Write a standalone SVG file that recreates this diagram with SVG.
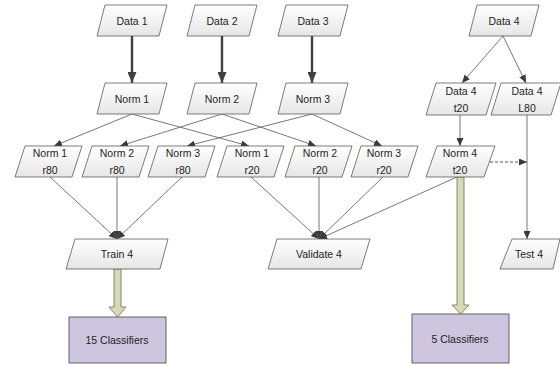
<svg xmlns="http://www.w3.org/2000/svg" width="560" height="366" viewBox="0 0 560 366">
<style>
.box{fill:url(#g);stroke:#5a5a5a;stroke-width:0.8}
.cls{fill:#cdc6de;stroke:#555;stroke-width:0.9}
.blk{fill:#d6dab5;stroke:#7c7c68;stroke-width:0.9}
.thick{stroke:#404040;stroke-width:2.4;fill:none;marker-end:url(#ah)}
.thin{stroke:#555;stroke-width:0.8;fill:none;marker-end:url(#at)}
.dash{stroke:#444;stroke-width:0.9;fill:none;stroke-dasharray:3 2;marker-end:url(#at)}
text{font-family:"Liberation Sans Narrow","Liberation Sans",Arial,sans-serif;font-size:10.5px;fill:#1e1e1e;text-anchor:middle}
</style>
<defs>
<linearGradient id="g" x1="0" y1="0" x2="0" y2="1">
<stop offset="0" stop-color="#ffffff"/>
<stop offset="1" stop-color="#e6e6e6"/>
</linearGradient>
<marker id="ah" markerUnits="userSpaceOnUse" markerWidth="11" markerHeight="9" refX="11" refY="4.5" orient="auto">
<path d="M0,0 L11,4.5 L0,9 Z" fill="#404040"/>
</marker>
<marker id="at" markerUnits="userSpaceOnUse" markerWidth="8" markerHeight="7" refX="8" refY="3.5" orient="auto">
<path d="M0,0 L8,3.5 L0,7 Z" fill="#3a3a3a"/>
</marker>
</defs>
<rect width="560" height="366" fill="#fff"/>

<g id="connectors">
<line class="thick" x1="132" y1="36" x2="132" y2="83"/>
<line class="thick" x1="222" y1="36" x2="222" y2="83"/>
<line class="thick" x1="312" y1="36" x2="312" y2="83"/>
<line class="thin" x1="503" y1="36" x2="462" y2="83"/>
<line class="thin" x1="503" y1="36" x2="526" y2="83"/>
<line class="thin" x1="132" y1="114" x2="54" y2="146"/>
<line class="thin" x1="132" y1="114" x2="249" y2="146"/>
<line class="thin" x1="222" y1="114" x2="120" y2="146"/>
<line class="thin" x1="222" y1="114" x2="316" y2="146"/>
<line class="thin" x1="312" y1="114" x2="187" y2="146"/>
<line class="thin" x1="312" y1="114" x2="382" y2="146"/>
<line class="thin" x1="460" y1="115" x2="460" y2="146"/>
<line class="dash" x1="490" y1="162" x2="527" y2="162"/>
<line class="thin" x1="527" y1="115" x2="527" y2="239"/>
<line class="thin" x1="50" y1="177" x2="117" y2="239"/>
<line class="thin" x1="117" y1="177" x2="117" y2="239"/>
<line class="thin" x1="182" y1="177" x2="117" y2="239"/>
<line class="thin" x1="251" y1="177" x2="319" y2="239"/>
<line class="thin" x1="319" y1="177" x2="319" y2="239"/>
<line class="thin" x1="383" y1="177" x2="319" y2="239"/>
<line class="thin" x1="457" y1="177" x2="319" y2="239"/>
<path class="blk" d="M114,269 L121,269 L121,307 L126,307 L117.5,317 L109,307 L114,307 Z"/>
<path class="blk" d="M457,177 L464,177 L464,305 L469,305 L460.5,314 L452,305 L457,305 Z"/>
</g>

<g id="data1"><polygon class="box" points="105,5 167,5 159,36 97,36"/><text x="132" y="25">Data 1</text></g>
<g id="data2"><polygon class="box" points="195,5 257,5 249,36 187,36"/><text x="222" y="25">Data 2</text></g>
<g id="data3"><polygon class="box" points="286,5 348,5 340,36 278,36"/><text x="313" y="25">Data 3</text></g>
<g id="data4"><polygon class="box" points="477,5 539,5 531,36 469,36"/><text x="504" y="25">Data 4</text></g>

<g id="norm1"><polygon class="box" points="105,83 167,83 159,114 97,114"/><text x="132" y="103">Norm 1</text></g>
<g id="norm2"><polygon class="box" points="195,83 257,83 249,114 187,114"/><text x="222" y="103">Norm 2</text></g>
<g id="norm3"><polygon class="box" points="286,83 348,83 340,114 278,114"/><text x="313" y="103">Norm 3</text></g>

<g id="data4t20"><polygon class="box" points="436,83 496,83 486,115 426,115"/><text x="461" y="95">Data 4</text><text x="461" y="112">t20</text></g>
<g id="data4l80"><polygon class="box" points="501,83 561,83 551,115 491,115"/><text x="527" y="95">Data 4</text><text x="527" y="112">L80</text></g>

<g id="norm1r80"><polygon class="box" points="25,146 82,146 72,177 15,177"/><text x="50" y="157">Norm 1</text><text x="50" y="174">r80</text></g>
<g id="norm2r80"><polygon class="box" points="92,146 149,146 139,177 82,177"/><text x="117" y="157">Norm 2</text><text x="117" y="174">r80</text></g>
<g id="norm3r80"><polygon class="box" points="158,146 215,146 205,177 148,177"/><text x="183" y="157">Norm 3</text><text x="183" y="174">r80</text></g>
<g id="norm1r20"><polygon class="box" points="227,146 284,146 274,177 217,177"/><text x="252" y="157">Norm 1</text><text x="252" y="174">r20</text></g>
<g id="norm2r20"><polygon class="box" points="295,146 352,146 342,177 285,177"/><text x="320" y="157">Norm 2</text><text x="320" y="174">r20</text></g>
<g id="norm3r20"><polygon class="box" points="361,146 418,146 408,177 351,177"/><text x="384" y="157">Norm 3</text><text x="384" y="174">r20</text></g>
<g id="norm4t20"><polygon class="box" points="437,146 495,146 484,177 426,177"/><text x="460" y="157">Norm 4</text><text x="460" y="174">t20</text></g>

<g id="train4"><polygon class="box" points="75,239 168,239 160,269 66,269"/><text x="117" y="258">Train 4</text></g>
<g id="validate4"><polygon class="box" points="277,239 370,239 361,269 268,269"/><text x="319" y="258">Validate 4</text></g>
<g id="test4"><polygon class="box" points="512,239 560,239 553,269 500,269"/><text x="529" y="258">Test 4</text></g>

<g id="classifiers15"><rect class="cls" x="69" y="317" width="97" height="46"/><text x="117" y="344">15 Classifiers</text></g>
<g id="classifiers5"><rect class="cls" x="412" y="314" width="97" height="49"/><text x="460" y="343">5 Classifiers</text></g>
</svg>
